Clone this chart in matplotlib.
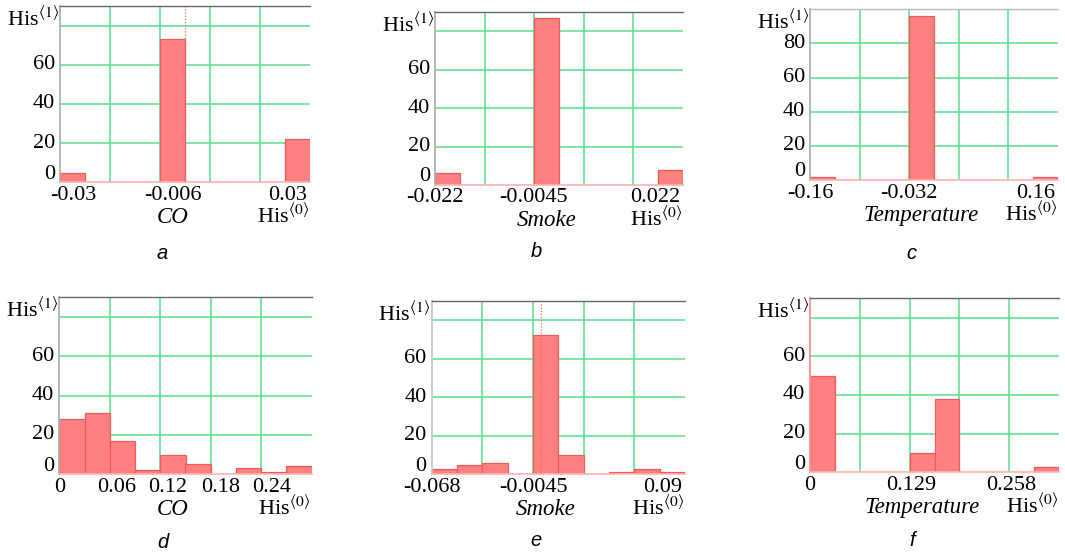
import numpy as np
import matplotlib
matplotlib.use('Agg')
import matplotlib.pyplot as plt
from matplotlib import transforms as mtrans

# ---------------- data ----------------
a_range = (-0.03, 0.03)
a_counts = [5, 0, 0, 0, 73, 0, 0, 0, 0, 22]
a_ticks = [-0.03, -0.006, 0.03]
a_ticklabels = ['-0.03', '-0.006', '0.03']
a_yticks = [0, 20, 40, 60]
a_mean = 0.0

b_range = (-0.0225, 0.0225)
b_counts = [6, 0, 0, 0, 87, 0, 0, 0, 0, 8]
b_ticks = [-0.0225, -0.0045, 0.0225]
b_ticklabels = ['-0.022', '-0.0045', '0.022']
b_yticks = [0, 20, 40, 60]

c_range = (-0.16, 0.16)
c_counts = [2, 0, 0, 0, 96, 0, 0, 0, 0, 2]
c_ticks = [-0.16, -0.032, 0.16]
c_ticklabels = ['-0.16', '-0.032', '0.16']
c_yticks = [0, 20, 40, 60, 80]

d_range = (0.0, 0.30)
d_counts = [28, 31, 17, 2, 10, 5, 0, 3, 1, 4]
d_ticks = [0.0, 0.06, 0.12, 0.18, 0.24]
d_ticklabels = ['0', '0.06', '0.12', '0.18', '0.24']
d_yticks = [0, 20, 40, 60]

e_range = (-0.068, 0.09)
e_counts = [3, 5, 6, 0, 72, 10, 0, 1, 3, 1]
e_ticks = [-0.068, -0.0045, 0.09]
e_ticklabels = ['-0.068', '-0.0045', '0.09']
e_yticks = [0, 20, 40, 60]
e_mean = 0.0

f_range = (0.0, 0.3225)
f_counts = [50, 0, 0, 0, 10, 38, 0, 0, 0, 3]
f_ticks = [0.0, 0.129, 0.258]
f_ticklabels = ['0', '0.129', '0.258']
f_yticks = [0, 20, 40, 60]

xlabels = ['CO', 'Smoke', 'Temperature', 'CO', 'Smoke', 'Temperature']
letters = ['a', 'b', 'c', 'd', 'e', 'f']

# ---------------- layout ----------------
W, H = 1065, 556
fig = plt.figure(figsize=(W / 100, H / 100), dpi=100)

SERIF = ['Liberation Serif', 'DejaVu Serif']
SANS = ['Liberation Sans', 'DejaVu Sans']
plt.rcParams['mathtext.fontset'] = 'stix'

panels = [
    dict(box=(60, 6, 310, 182.3), rng=a_range, counts=a_counts, ticks=a_ticks,
         tl=a_ticklabels, yt=a_yticks, ymax=90, mean=a_mean, xoff=[13, 13, None],
         top='#666666', left='#b0b0b0', letter_y=253),
    dict(box=(435, 12.3, 683, 185), rng=b_range, counts=b_counts, ticks=b_ticks,
         tl=b_ticklabels, yt=b_yticks, ymax=90, mean=None, xoff=[0, -1, None],
         top='#666666', left='#b0b0b0', letter_y=251),
    dict(box=(810, 9.3, 1058, 180), rng=c_range, counts=c_counts, ticks=c_ticks,
         tl=c_ticklabels, yt=c_yticks, ymax=100, mean=None, xoff=[0, 0, None],
         top='#bbbbbb', left='#b0b0b0', letter_y=253),
    dict(box=(59.3, 297.3, 311.7, 474.3), rng=d_range, counts=d_counts, ticks=d_ticks,
         tl=d_ticklabels, yt=d_yticks, ymax=90, mean=None, xoff=[0, 7, 7, 10, 10],
         top='#666666', left='#b0b0b0', letter_y=543),
    dict(box=(431.7, 300.7, 685, 474.3), rng=e_range, counts=e_counts, ticks=e_ticks,
         tl=e_ticklabels, yt=e_yticks, ymax=90, mean=e_mean, xoff=[0, 0, None],
         top='#666666', left='#c8c8c8', letter_y=540),
    dict(box=(810, 298.3, 1059, 472.3), rng=f_range, counts=f_counts, ticks=f_ticks,
         tl=f_ticklabels, yt=f_yticks, ymax=90, mean=None, xoff=[0, 2, 2],
         top='#666666', left='#ff9090', letter_y=541),
]

GRID = '#55e08c'
FILL = '#ff8080'
EDGE = '#f25a5a'
ZERO = '#ffb4b4'
FS = 16
FS_LAB = 16.5
FS_HIS = 16

for i, p in enumerate(panels):
    l, t, r, b = p['box']
    ax = fig.add_axes([l / W, 1 - b / H, (r - l) / W, (b - t) / H])
    lo, hi = p['rng']
    edges = np.linspace(lo, hi, len(p['counts']) + 1)
    ax.set_xlim(lo, hi)
    ax.set_ylim(0, p['ymax'])

    # grid
    for gx in np.linspace(lo, hi, 6)[1:-1]:
        ax.axvline(gx, color=GRID, lw=1.1, zorder=1)
    for gy in [20, 40, 60, 80]:
        ax.axhline(gy, color=GRID, lw=1.3, alpha=0.85, zorder=1)

    ecs = [EDGE if c > 0 else ZERO for c in p['counts']]
    ax.bar(edges[:-1], p['counts'], width=np.diff(edges), align='edge',
           color=FILL, edgecolor=ecs, lw=0.9, zorder=2)

    if p['mean'] is not None:
        ax.axvline(p['mean'], color='#ff6060', lw=0.9, ls=(0, (1, 1.5)), zorder=3)

    ax.set_xticks([])
    ax.set_yticks([])
    ax.spines['right'].set_visible(False)
    ax.spines['top'].set_color(p['top'])
    ax.spines['top'].set_linewidth(1.0)
    ax.spines['left'].set_color(p['left'])
    ax.spines['left'].set_linewidth(1.3)
    ax.spines['bottom'].set_color(ZERO)
    ax.spines['bottom'].set_linewidth(1.2)

    # x tick labels
    bl = mtrans.blended_transform_factory(ax.transData, ax.transAxes)
    for k, (tv, tl) in enumerate(zip(p['ticks'], p['tl'])):
        off = p['xoff'][k]
        if off is None:
            tr = mtrans.offset_copy(bl, fig=fig, x=-3, y=-13, units='dots')
            ax.text(tv, 0, tl, transform=tr, ha='right', va='center',
                    family=SERIF, fontsize=FS, clip_on=False)
        else:
            tr = mtrans.offset_copy(bl, fig=fig, x=off, y=-13, units='dots')
            ax.text(tv, 0, tl, transform=tr, ha='center', va='center',
                    family=SERIF, fontsize=FS, clip_on=False)

    # y tick labels
    bly = mtrans.blended_transform_factory(ax.transAxes, ax.transData)
    for yv in p['yt']:
        dy = 8 if yv == 0 else 0
        tr = mtrans.offset_copy(bly, fig=fig, x=-5, y=dy, units='dots')
        ax.text(0, yv, str(yv), transform=tr, ha='right', va='center',
                family=SERIF, fontsize=FS, clip_on=False)

    # axis titles and labels
    fig.text((l + 0.45 * (r - l)) / W, 1 - (b + 35) / H, xlabels[i],
             ha='center', va='center', family=SERIF, style='italic', fontsize=FS_LAB)
    fig.text((r - 1) / W, 1 - (b + 34) / H, r'His$^{\langle 0\rangle}$',
             ha='right', va='center', family=SERIF, fontsize=FS_HIS)
    fig.text((l - 1) / W, 1 - (t + 13) / H, r'His$^{\langle 1\rangle}$',
             ha='right', va='center', family=SERIF, fontsize=FS_HIS)

    fig.text((l + 0.41 * (r - l)) / W, 1 - p['letter_y'] / H, letters[i],
             ha='center', va='center', family=SANS, style='italic', fontsize=14.5)

fig.savefig('out.png', dpi=100, facecolor='white')
